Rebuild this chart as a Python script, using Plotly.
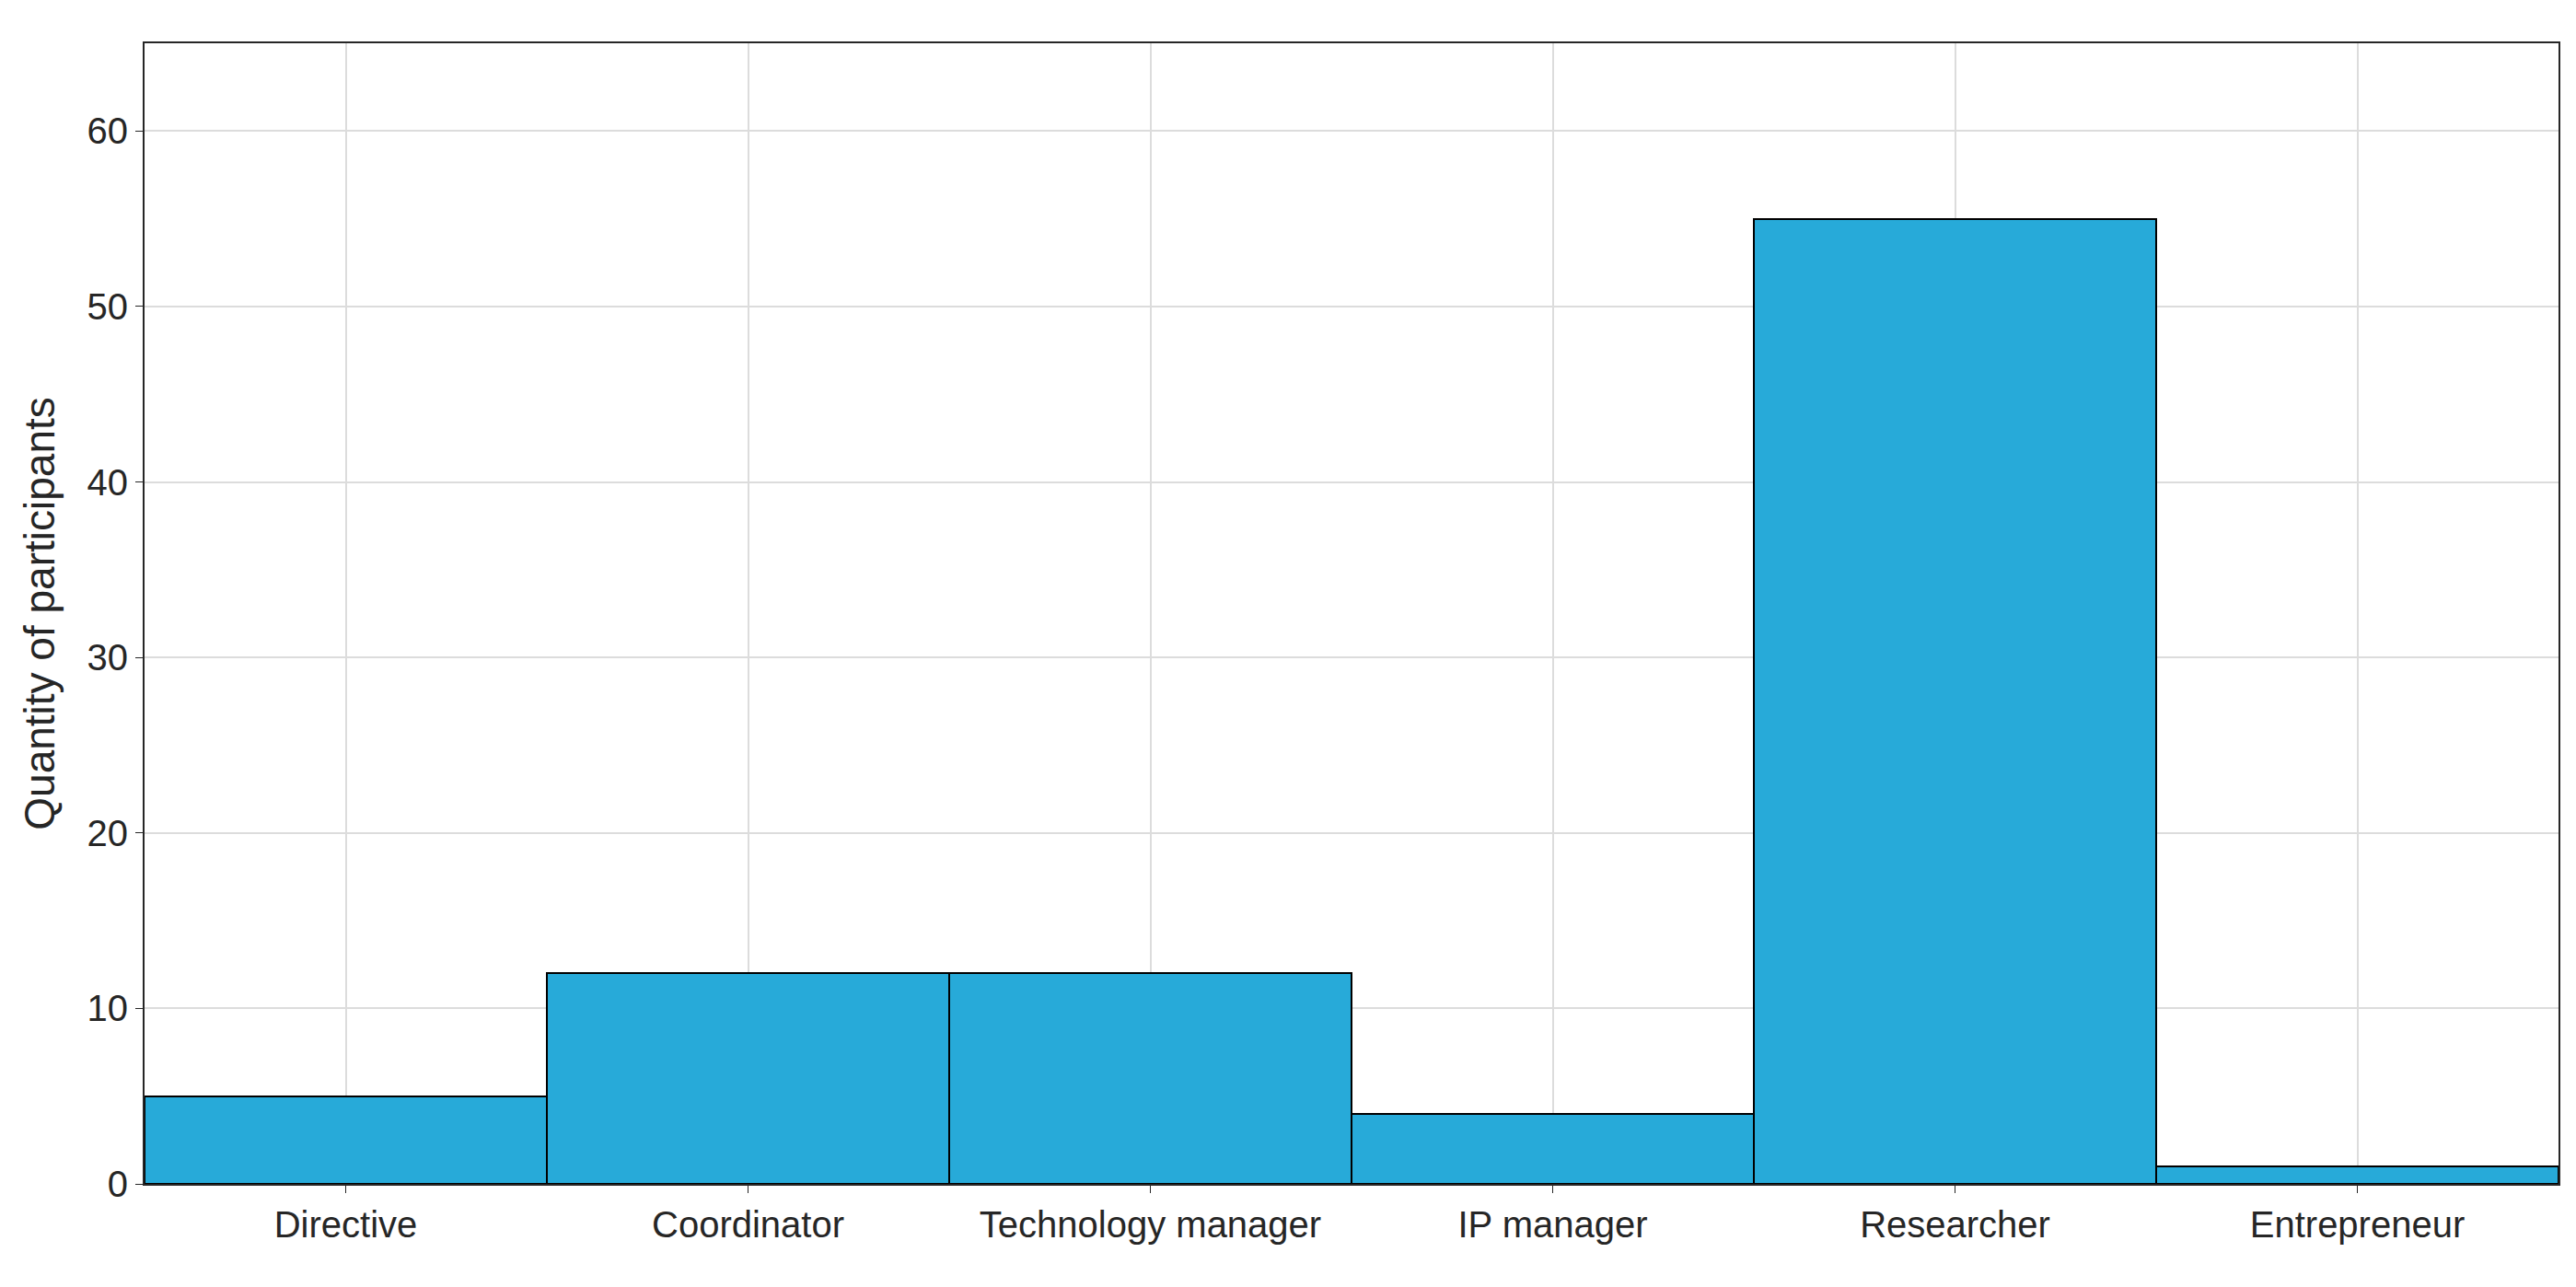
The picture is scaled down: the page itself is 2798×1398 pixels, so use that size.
import plotly.graph_objects as go

categories = ["Directive", "Coordinator", "Technology manager", "IP manager", "Researcher", "Entrepreneur"]
counts = [5, 12, 12, 4, 55, 1]
y_ticks = [0, 10, 20, 30, 40, 50, 60]

font = "Liberation Sans Narrow, Liberation Sans, Arial"
fig = go.Figure(go.Bar(
    x=categories, y=counts, width=1,
    marker=dict(color="#27aad9", line=dict(color="black", width=2)),
))
fig.update_layout(
    width=2798, height=1398,
    margin=dict(l=149, r=27, t=39, b=120),
    paper_bgcolor="white", plot_bgcolor="white",
    font=dict(family=font, size=40, color="#262626"),
    showlegend=False, bargap=0,
)
fig.update_xaxes(range=[-0.5, 5.5], showgrid=True, gridcolor="#dcdcdc", gridwidth=2,
                 showline=True, linecolor="#262626", linewidth=2, mirror=True,
                 ticks="outside", ticklen=8, tickcolor="#262626")
fig.update_yaxes(range=[0, 65], tickvals=y_ticks, showgrid=True, gridcolor="#dcdcdc", gridwidth=2,
                 showline=True, linecolor="#262626", linewidth=2, mirror=True,
                 ticks="outside", ticklen=8, tickcolor="#262626", zeroline=False,
                 title=dict(text="Quantity of participants", font=dict(size=46), standoff=20))
fig.write_html("out.html")
